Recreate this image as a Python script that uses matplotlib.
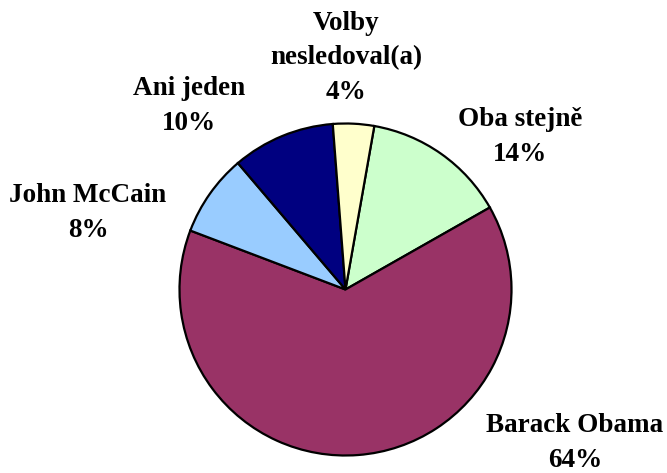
import matplotlib

matplotlib.use("Agg")

import matplotlib.pyplot as plt  # noqa: E402

# clockwise from just right of 12 o'clock
labels = ["Oba stejně", "Barack Obama", "John McCain", "Ani jeden", "Volby\nnesledoval(a)"]
shares = [14, 64, 8, 10, 4]
colors = ["#CCFFCC", "#993366", "#99CCFF", "#000080", "#FFFFCC"]

W, H = 667, 473

fig = plt.figure(figsize=(W / 100, H / 100), dpi=100)
ax = fig.add_axes([0, 0, 1, 1])

# work in pixel units, origin bottom-left
cx, cy, r = 345.5, H - 289.5, 166
ax.pie(
    shares,
    colors=colors,
    startangle=80,
    counterclock=False,
    center=(cx, cy),
    radius=r,
    wedgeprops={"edgecolor": "black", "linewidth": 1.6},
)
ax.set_xlim(0, W)
ax.set_ylim(0, H)
ax.set_aspect("auto")
ax.axis("off")

# label block centres (pixels, from top)
label_pos = [(520, 137), (575, 443), (88, 213), (189, 106), (346, 58)]
for name, pct, (x, y) in zip(labels, shares, label_pos):
    ax.text(
        x, H - y, f"{name}\n{pct}%",
        ha="center", va="center", multialignment="center",
        family=["Liberation Serif", "DejaVu Serif"], weight="bold",
        fontsize=19.5, linespacing=1.52,
    )

fig.savefig("out.png", dpi=100)
plt.close(fig)
